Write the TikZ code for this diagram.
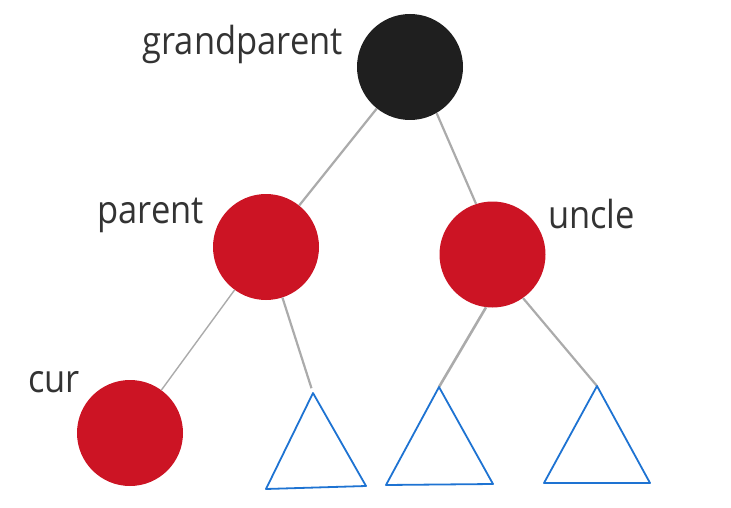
\documentclass[tikz,border=0pt]{standalone}
\usepackage{graphicx}
\usepackage{fontspec}
\setmainfont{Open Sans}
\definecolor{nodered}{HTML}{CC1424}
\definecolor{nodeblack}{HTML}{1F1F1F}
\definecolor{edgegray}{HTML}{ABABAB}
\definecolor{triblue}{HTML}{1E73D2}
\definecolor{labelgray}{HTML}{333333}
\newcommand{\tallword}[1]{\scalebox{1}[1.12]{#1}}
\tikzset{
  rbnode/.style={circle, inner sep=0pt, minimum size=106pt},
  rednode/.style={rbnode, fill=nodered},
  blacknode/.style={rbnode, fill=nodeblack},
  edge/.style={draw=edgegray, line width=2.2pt},
  subtree/.style={draw=triblue, line width=1.8pt, line join=round},
  lbl/.style={text=labelgray, font=\fontsize{34.5}{40}\selectfont, inner sep=0pt}
}
\begin{document}
\begin{tikzpicture}[x=1pt, y=-1pt]
\useasboundingbox (0,0) rectangle (731,508);
% nodes
\node[blacknode] (gp) at (410,67) {};
\node[rednode] (p) at (266,247) {};
\node[rednode] (u) at (492.5,254.5) {};
\node[rednode] (c) at (130,433) {};
% labels
\node[lbl, anchor=base east] (lgp) at (343,55) {\tallword{grandparent}};
\node[lbl, anchor=base east] (lp) at (204,223) {\tallword{parent}};
\node[lbl, anchor=base west] (lu) at (548,228) {\tallword{uncle}};
\node[lbl, anchor=base west] (lc) at (28,392) {\tallword{cur}};
% triangle corners
\coordinate (a1) at (313,393);
\coordinate (b1) at (266,489);
\coordinate (c1) at (366,486);
\coordinate (a2) at (439,387);
\coordinate (b2) at (386,485);
\coordinate (c2) at (493,484);
\coordinate (a3) at (597,386);
\coordinate (b3) at (544,483);
\coordinate (c3) at (650,483);
% edges
\draw[edge] (gp) -- (p);
\draw[edge] (gp.-60) -- (u.108);
\draw[edge, line width=1.4pt] (p) -- (c);
\draw[edge, shorten >=5pt] (p.-72) -- (a1);
\draw[edge, line width=2.6pt] (u.-97) -- (a2);
\draw[edge] (u.-55) -- (a3);
% subtrees
\draw[subtree] (a1) -- (b1) -- (c1) -- cycle;
\draw[subtree] (a2) -- (b2) -- (c2) -- cycle;
\draw[subtree] (a3) -- (b3) -- (c3) -- cycle;
\end{tikzpicture}
\end{document}
